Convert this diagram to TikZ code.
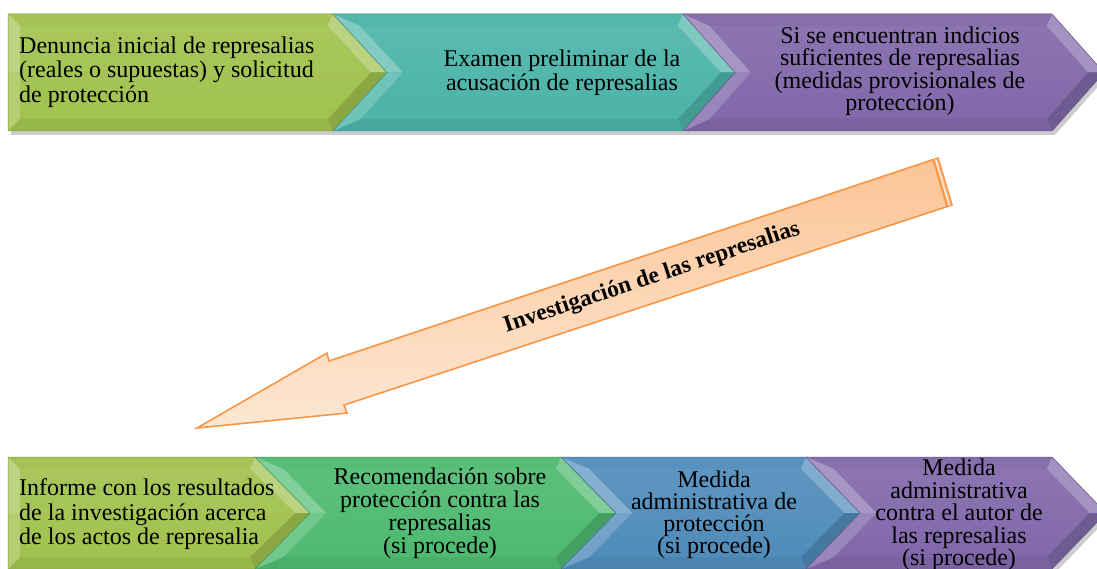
\documentclass[tikz,border=0pt]{standalone}
\usepackage{fontspec}
\setmainfont{Liberation Serif}
\newfontfamily\timesx{Liberation Serif}
\definecolor{cOlive}{RGB}{161,194,78}
\definecolor{cTeal}{RGB}{76,180,168}
\definecolor{cPurple}{RGB}{130,104,170}
\definecolor{cGreen}{RGB}{78,186,112}
\definecolor{cBlue}{RGB}{80,140,186}
\definecolor{arLine}{RGB}{247,150,70}
\definecolor{arDark}{RGB}{251,192,142}
\definecolor{arLight}{RGB}{254,236,220}
% #1 L, #2 C, #3 T, #4 y0, #5 y1, #6 colour, #7 notch 0/1
\newcommand\chevshape[7]{%
  \pgfmathsetmacro\cyM{(#4+#5)/2}%
  \pgfmathsetmacro\cD{#3-#2}%
  \pgfmathsetmacro\cH{\cyM-#4}%
  \pgfmathsetmacro\cK{\cD/\cH}%
  \pgfmathsetmacro\cS{sqrt(1+\cK*\cK)}%
  \pgfmathsetmacro\cB{12}%
  \pgfmathsetmacro\cN{#1+#7*\cD}%
  \pgfmathsetmacro\iTL{#1+#7*\cK*\cB+\cB*(#7*\cS+1-#7)}%
  \pgfmathsetmacro\iN{#1+#7*\cD+\cB*(#7*\cS+1-#7)}%
  \pgfmathsetmacro\iTR{#2+\cK*\cB-\cB*\cS}%
  \pgfmathsetmacro\iT{#3-\cB*\cS}%
  \pgfmathsetmacro\iyA{#4+\cB}%
  \pgfmathsetmacro\iyB{#5-\cB}%
  \fill[#6] (#1,#4) -- (#2,#4) -- (#3,\cyM) -- (#2,#5) -- (#1,#5) -- (\cN,\cyM) -- cycle;
  \fill[#6!96!white] (#1,#4) -- (#2,#4) -- (\iTR,\iyA) -- (\iTL,\iyA) -- cycle;
  \fill[#6!72!white] (#2,#4) -- (#3,\cyM) -- (\iT,\cyM) -- (\iTR,\iyA) -- cycle;
  \fill[#6!86!black] (#3,\cyM) -- (#2,#5) -- (\iTR,\iyB) -- (\iT,\cyM) -- cycle;
  \fill[#6!94!black] (#2,#5) -- (#1,#5) -- (\iTL,\iyB) -- (\iTR,\iyB) -- cycle;
  \fill[#6!70!white] (#1,#4) -- (\cN,\cyM) -- (\iN,\cyM) -- (\iTL,\iyA) -- cycle;
  \fill[#6!80!white] (\cN,\cyM) -- (#1,#5) -- (\iTL,\iyB) -- (\iN,\cyM) -- cycle;
  \shade[top color=#6!92!white, bottom color=#6] (\iTL,\iyA) -- (\iTR,\iyA) -- (\iT,\cyM) -- (\iTR,\iyB) -- (\iTL,\iyB) -- (\iN,\cyM) -- cycle;
  \draw[#6!80!black, line width=0.5pt, line join=miter] (#1,#4) -- (#2,#4) -- (#3,\cyM) -- (#2,#5) -- (#1,#5) -- (\cN,\cyM) -- cycle;
}
\newcommand\chevshadow[6]{%
  \pgfmathsetmacro\cyM{(#4+#5)/2}%
  \pgfmathsetmacro\cN{#1+#6*(#3-#2)}%
  \fill[black, opacity=0.2] ([shift={(3,4)}]#1,#4) -- ([shift={(3,4)}]#2,#4) -- ([shift={(3,4)}]#3,\cyM) -- ([shift={(3,4)}]#2,#5) -- ([shift={(3,4)}]#1,#5) -- ([shift={(3,4)}]\cN,\cyM) -- cycle;
}
\begin{document}
\begin{tikzpicture}[x=1pt,y=-1pt,
  txt/.style={font=\timesx\fontsize{24}{24.5}\selectfont, inner sep=0pt, text=black},
  tight/.style={font=\timesx\fontsize{24}{#1}\selectfont}]
\useasboundingbox (0,0) rectangle (1097,569);
\clip (0,0) rectangle (1097,569);
\fill[white] (0,0) rectangle (1097,569);

% ---- top row ----
\chevshadow{8}{333}{387}{14}{131}{0}
\chevshadow{333}{683}{737}{14}{131}{1}
\chevshadow{683}{1052}{1104}{14}{131}{1}
\chevshape{8}{333}{387}{14}{131}{cOlive}{0}
\chevshape{333}{683}{737}{14}{131}{cTeal}{1}
\chevshape{683}{1052}{1104}{14}{131}{cPurple}{1}

\node[txt, anchor=west, align=left] (t1) at (19,72) {Denuncia inicial de represalias\\(reales o supuestas) y solicitud\\de protección};
\node[txt, align=center] (t2) at (562,72.5) {Examen preliminar de la\\acusación de represalias};
\node[txt, tight=22.5, align=center] (t3) at (900,71) {Si se encuentran indicios\\suficientes de represalias\\(medidas provisionales de\\protección)};

% ---- bottom row ----
\chevshadow{8}{255}{312}{457}{569}{0}
\chevshadow{255}{561}{616}{457}{569}{1}
\chevshadow{561}{806}{861}{457}{569}{1}
\chevshadow{806}{1052}{1106}{457}{569}{1}
\chevshape{8}{255}{312}{457}{569}{cOlive}{0}
\chevshape{255}{561}{616}{457}{569}{cGreen}{1}
\chevshape{561}{806}{861}{457}{569}{cBlue}{1}
\chevshape{806}{1052}{1106}{457}{569}{cPurple}{1}

\node[txt, anchor=west, align=left] (b1) at (19,514.5) {Informe con los resultados\\de la investigación acerca\\de los actos de represalia};
\node[txt, tight=23, align=center] (b2) at (440,513) {Recomendación sobre\\protección contra las\\represalias\\(si procede)};
\node[txt, tight=22, align=center] (b3) at (714,514.5) {Medida\\administrativa de\\protección\\(si procede)};
\node[txt, tight=22.5, align=center] (b4) at (959,515) {Medida\\administrativa\\contra el autor de\\las represalias\\(si procede)};

% ---- arrow ----
\coordinate (aT1) at (938,158);
\coordinate (aT2) at (952,205);
\coordinate (aJ1) at (329,361);
\coordinate (aB1) at (327,353);
\coordinate (aP) at (197,428);
\coordinate (aB2) at (347,413);
\coordinate (aJ2) at (344,405);
\coordinate (aS1) at (933.3,159.6);
\coordinate (aS2) at (947.3,206.6);
\coordinate (aL1) at (935.4,158.9);
\coordinate (aL2) at (949.4,205.9);

\fill[black, opacity=0.12, shift={(2,6)}] (aT1) -- (aJ1) -- (aB1) -- (aP) -- (aB2) -- (aJ2) -- (aT2) -- cycle;
\begin{scope}
  \clip (aT1) -- (aJ1) -- (aB1) -- (aP) -- (aB2) -- (aJ2) -- (aT2) -- cycle;
  \node[rotate=18.4, minimum width=900pt, minimum height=66pt, inner sep=0pt,
        top color=arDark, bottom color=arLight, draw=none] (arfill) at (600,296) {};
\end{scope}
\draw[arLine, line width=1.6pt, line join=miter] (aT1) -- (aJ1) -- (aB1) -- (aP) -- (aB2) -- (aJ2) -- (aT2) -- cycle;
\draw[arLine, line width=2pt] (aS1) -- (aS2);
\draw[arLight, line width=1pt] (aL1) -- (aL2);

\node[font=\timesx\bfseries\fontsize{23.5}{25}\selectfont, rotate=18.4, inner sep=0pt] (artxt) at (652,278) {Investigación de las represalias};
\end{tikzpicture}
\end{document}
